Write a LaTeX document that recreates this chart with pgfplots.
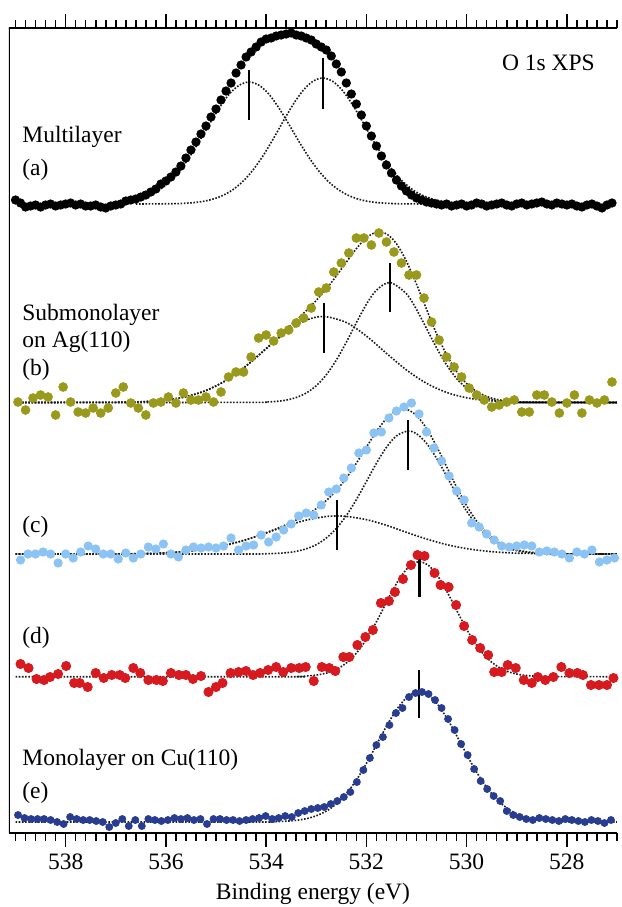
\documentclass[border=0pt]{standalone}
\usepackage{fontspec}
\setmainfont{Liberation Serif}
\usepackage{pgfplots}
\pgfplotsset{compat=1.18}
\usetikzlibrary{calc}
\definecolor{olivedot}{HTML}{999A1C}
\definecolor{skydot}{HTML}{8CC3F5}
\definecolor{reddot}{HTML}{D71920}
\definecolor{navydot}{HTML}{283C91}
\pgfplotsset{
  fitline/.style={black!90, line width=0.8pt, dash pattern=on 0.8pt off 0.8pt, smooth, mark=none},
  peakbar/.style={black, line width=1.1pt, mark=none},
  dots/.style={only marks, mark=*, mark size=2.2pt},
}
\begin{document}
\begin{tikzpicture}[font=\fontsize{11.75}{14}\selectfont]
\begin{axis}[
  scale only axis, width=304pt, height=402.5pt,
  x dir=reverse, xmin=527, xmax=539.13,
  y dir=reverse, ymin=28, ymax=833,
  hide y axis,
  axis x line=box,
  xtick={528,530,...,538},
  minor xtick={527,527.2,...,539},
  tick align=outside,
  major tick length=6.8pt, minor tick length=4pt,
  tick style={black, line width=0.8pt},
  axis line style={line width=1pt},
  xlabel={Binding energy (eV)},
  /pgf/number format/assume math mode=true,
]
% frame: left side only
\draw[line width=1pt] (axis description cs:0,0) -- (axis description cs:0,1);
\coordinate (bl) at (axis description cs:0,0);
\coordinate (tr) at (axis description cs:1,1);

% ---------- (a) multilayer ----------
\addplot[fitline] coordinates {
(536.74,201.6) (536.54,199.4) (536.34,195.8) (536.14,190.3) (535.94,182.4) (535.74,171.5)
(535.54,157.9) (535.34,141.9) (535.14,124.8) (534.94,108.4) (534.74,94.4) (534.54,85.3)
(534.34,82) (534.14,85.3) (533.94,94.4) (533.74,108.4) (533.54,124.8) (533.34,141.9)
(533.14,157.9) (532.94,171.5) (532.74,182.4) (532.54,190.3) (532.34,195.8) (532.14,199.4)
(531.94,201.6) (531.74,202.8) (531.54,203.4) (531.34,203.8) (530.8,204)};
\addplot[fitline] coordinates {
(536.6,204) (535.87,203.7) (535.67,203.4) (535.47,202.7) (535.27,201.5) (535.07,199.2)
(534.87,195.6) (534.67,189.9) (534.47,181.7) (534.27,170.5) (534.07,156.4) (533.87,139.9)
(533.67,122.2) (533.47,105.2) (533.27,90.9) (533.07,81.4) (532.87,78) (532.67,81.4)
(532.47,90.9) (532.27,105.2) (532.07,122.2) (531.87,139.9) (531.67,156.4) (531.47,170.5)
(531.27,181.7) (531.07,189.9) (530.87,195.6) (530.67,199.2) (530.47,201.5)};
\addplot[dots, black, mark size=2.1pt] coordinates {
(539.0,200) (538.9,203) (538.8,207) (538.7,206) (538.6,205) (538.5,207) (538.4,205) (538.3,204)
(538.2,206) (538.1,205) (538.0,204) (537.9,203) (537.8,205) (537.7,204) (537.6,206) (537.5,206)
(537.4,205) (537.3,207) (537.2,208) (537.1,206) (537.0,205) (536.9,204) (536.8,201) (536.7,200)
(536.6,199) (536.5,197) (536.4,195) (536.3,192) (536.2,189) (536.1,184) (536.0,181) (535.9,177)
(535.8,172) (535.7,166) (535.6,158) (535.5,150) (535.4,142) (535.3,134) (535.2,126) (535.1,117)
(535.0,109) (534.9,100) (534.8,91) (534.7,83) (534.6,73) (534.5,65) (534.4,57) (534.3,52)
(534.2,47) (534.1,42) (534.0,39) (533.9,38) (533.8,36) (533.7,35) (533.6,34) (533.5,33)
(533.4,35) (533.3,36) (533.2,38) (533.1,40) (533.0,44) (532.9,47) (532.8,50) (532.7,56)
(532.6,64) (532.5,72) (532.4,83) (532.3,94) (532.2,104) (532.1,115) (532.0,126) (531.9,136)
(531.8,146) (531.7,156) (531.6,165) (531.5,173) (531.4,180) (531.3,186) (531.2,191) (531.1,195)
(531.0,198) (530.9,200) (530.8,202) (530.7,203) (530.6,204) (530.5,205) (530.4,204) (530.3,206)
(530.2,205) (530.1,204) (530.0,206) (529.9,205) (529.8,203) (529.7,204) (529.6,206) (529.5,205)
(529.4,204) (529.3,203) (529.2,205) (529.1,206) (529.0,204) (528.9,203) (528.8,205) (528.7,204)
(528.6,203) (528.5,202) (528.4,204) (528.3,205) (528.2,203) (528.1,204) (528.0,205) (527.9,204)
(527.8,206) (527.7,207) (527.6,205) (527.5,204) (527.4,206) (527.3,208) (527.2,205) (527.1,203)};
\addplot[peakbar] coordinates {(534.34,70) (534.34,120)};
\addplot[peakbar] coordinates {(532.87,58) (532.87,109)};

% ---------- (b) submonolayer on Ag(110) ----------
\addplot[fitline] coordinates {
(539,402.5) (537.0,402.3) (536.5,401.8) (536.0,400.0) (535.6,396.7) (535.2,390.5) (534.8,380.4)
(534.4,366.0) (534.0,348.9) (533.6,332.1) (533.2,320.2) (532.85,316.5) (532.4,322.5) (532.0,336.0)
(531.6,353.3) (531.2,370.0) (530.8,383.3) (530.4,392.4) (530.0,397.8) (529.6,400.5) (529.0,402.0)
(528.5,402.4) (527,402.5)};
\addplot[fitline] coordinates {
(539,402.5) (534.4,402.4) (534.0,402.0) (533.8,401.4) (533.6,400.1) (533.4,397.5) (533.2,393.0)
(533.0,385.7) (532.8,374.8) (532.6,360.1) (532.4,342.2) (532.2,322.7) (532.0,304.3) (531.8,290.2)
(531.53,282.5) (531.2,293.8) (531.0,309.5) (530.8,328.5) (530.6,347.8) (530.4,364.9) (530.2,378.5)
(530.0,388.2) (529.8,394.6) (529.6,398.4) (529.4,400.6) (529.2,401.7) (529.0,402.2) (527,402.5)};
\addplot[fitline] coordinates {
(539,402.5) (537.0,402.3) (536.5,401.8) (536.0,400.0) (535.6,396.7) (535.2,390.5) (534.8,380.4)
(534.4,365.9) (534.0,348.4) (533.6,329.7) (533.2,310.7) (533.0,300.4) (532.8,288.9) (532.6,276.0)
(532.4,262.2) (532.2,248.7) (532.0,237.8) (531.8,232.2) (531.6,233.8) (531.4,243.7) (531.2,261.3)
(531.0,284.2) (530.8,309.3) (530.6,333.7) (530.4,354.8) (530.2,371.5) (530.0,383.5) (529.8,391.5)
(529.6,396.4) (529.4,399.4) (529.2,400.9) (529.0,401.7) (528.8,402.2) (527,402.5)};
\addplot[black, line width=0.9pt, mark=none] coordinates {(529.3,402.4) (527,402.5)};
\addplot[dots, olivedot] coordinates {
(538.95,402) (538.8,410) (538.65,398) (538.5,395) (538.35,397) (538.2,415) (538.05,387) (537.9,402)
(537.75,412) (537.6,413) (537.45,408) (537.3,413) (537.15,408) (537.0,393) (536.85,387) (536.7,403)
(536.55,408) (536.4,415) (536.25,403) (536.1,402) (535.95,397) (535.8,403) (535.65,393) (535.5,400)
(535.35,400) (535.2,397) (535.05,402) (534.9,392) (534.75,377) (534.6,372) (534.45,372) (534.3,357)
(534.15,338) (534.0,335) (533.85,341) (533.7,333) (533.55,330) (533.4,323) (533.25,318) (533.1,308)
(532.95,292) (532.8,288) (532.65,272) (532.5,263) (532.35,253) (532.2,238) (532.05,238) (531.9,245)
(531.75,233) (531.6,242) (531.45,252) (531.3,263) (531.15,275) (531.0,275) (530.85,298) (530.7,322)
(530.55,340) (530.4,357) (530.25,367) (530.1,377) (529.95,388) (529.8,395) (529.65,400) (529.5,407)
(529.35,405) (529.2,402) (529.05,400) (528.9,412) (528.75,412) (528.6,395) (528.45,395) (528.3,402)
(528.15,413) (528.0,403) (527.85,395) (527.7,413) (527.55,400) (527.4,403) (527.25,400) (527.1,382)};
\addplot[peakbar] coordinates {(532.85,303) (532.85,353)};
\addplot[peakbar] coordinates {(531.53,263) (531.53,312)};

% ---------- (c) ----------
\addplot[fitline] coordinates {
(539,554) (537.0,553.9) (536.5,553.6) (536.0,552.8) (535.6,551.4) (535.2,549.0) (534.8,545.1)
(534.4,539.7) (534.0,533.0) (533.6,526.0) (533.2,520.1) (532.8,516.5) (532.58,516.0) (532.4,516.4)
(532.0,519.6) (531.6,525.3) (531.2,532.3) (530.8,539.0) (530.4,544.6) (530.0,548.6) (529.6,551.2)
(529.2,552.7) (528.8,553.4) (528.0,553.9) (527,554)};
\addplot[fitline] coordinates {
(539,554) (534.5,554) (534.0,553.7) (533.8,553.4) (533.6,552.7) (533.4,551.3) (533.2,548.8)
(533.0,544.7) (532.8,538.0) (532.6,528.5) (532.4,515.6) (532.2,499.6) (532.0,481.6) (531.8,463.3)
(531.6,447.3) (531.4,435.9) (531.17,431.0) (531.0,433.7) (530.8,443.3) (530.6,458.2) (530.4,476.0)
(530.2,494.3) (530.0,511.1) (529.8,525.0) (529.6,535.5) (529.4,542.9) (529.2,547.8) (529.0,550.7)
(528.8,552.4) (528.6,553.2) (528.2,553.9) (527,554)};
\addplot[fitline] coordinates {
(539,554) (537.0,553.9) (536.5,553.6) (536.0,552.8) (535.6,551.4) (535.2,549.0) (534.8,545.1)
(534.4,539.7) (534.0,532.7) (533.6,524.7) (533.2,514.9) (533.0,508.6) (532.8,500.5) (532.6,490.5)
(532.4,478.0) (532.2,463.2) (532.0,447.2) (531.8,431.5) (531.6,418.6) (531.4,410.7) (531.2,409.4)
(531.0,415.5) (530.8,428.3) (530.6,446.2) (530.4,466.6) (530.2,487.1) (530.0,505.7) (529.8,521.1)
(529.6,532.7) (529.4,541.0) (529.2,546.5) (529.0,549.8) (528.8,551.8) (528.6,552.8) (528.4,553.5)
(528.0,553.9) (527,554)};
\addplot[dots, skydot, mark size=2.1pt] coordinates {
(538.9,560) (538.75,554) (538.6,554) (538.45,552) (538.3,554) (538.15,563) (538.0,554) (537.85,558)
(537.7,552) (537.55,546) (537.4,549) (537.25,554) (537.1,554) (536.95,559) (536.8,553) (536.65,558)
(536.5,554) (536.35,547) (536.2,549) (536.05,544) (535.9,554) (535.75,557) (535.6,550) (535.45,547)
(535.3,548) (535.15,547) (535.0,548) (534.85,546) (534.7,538) (534.55,550) (534.4,546) (534.25,545)
(534.1,535) (533.95,542) (533.8,537) (533.65,530) (533.5,524) (533.35,516) (533.2,513) (533.05,515)
(532.9,505) (532.75,492) (532.6,489) (532.45,478) (532.3,468) (532.15,453) (532.0,450) (531.85,433)
(531.7,432) (531.55,418) (531.4,411) (531.25,407) (531.1,403) (530.95,414) (530.8,432) (530.65,448)
(530.5,461) (530.35,476) (530.2,491) (530.05,500) (529.9,523) (529.75,527) (529.6,534) (529.45,540)
(529.3,546) (529.15,547) (529.0,546) (528.85,545) (528.7,546) (528.55,552) (528.4,551) (528.25,552)
(528.1,554) (527.95,558) (527.8,552) (527.65,554) (527.5,550) (527.35,562) (527.2,560) (527.05,558)};
\addplot[peakbar] coordinates {(532.58,500) (532.58,550)};
\addplot[peakbar] coordinates {(531.17,420) (531.17,470)};

% ---------- (d) ----------
\addplot[fitline] coordinates {
(539,676.7) (533.6,676.7) (533.4,676.6) (533.14,675.8) (532.94,674.6) (532.74,672.2) (532.54,667.8)
(532.34,660.5) (532.14,649.5) (531.94,634.4) (531.74,616.1) (531.54,596.5) (531.34,578.7) (531.14,566.2)
(530.94,561.7) (530.74,566.2) (530.54,578.7) (530.34,596.5) (530.14,616.1) (529.94,634.4) (529.74,649.5)
(529.54,660.5) (529.34,667.8) (529.14,672.2) (528.94,674.6) (528.74,675.8) (528.54,676.3) (528.3,676.6)
(527,676.7)};
\addplot[dots, reddot, mark size=2.3pt] coordinates {
(538.9,664) (538.74,668) (538.58,679) (538.43,680) (538.31,677) (538.15,674) (537.99,666) (537.83,683)
(537.72,683) (537.56,687) (537.4,673) (537.24,678) (537.08,675) (536.92,675) (536.81,678) (536.65,668)
(536.51,673) (536.35,680) (536.19,680) (536.06,681) (535.9,673) (535.74,675) (535.6,675) (535.46,679)
(535.3,676) (535.15,692) (535.0,687) (534.87,683) (534.71,673) (534.55,672) (534.4,671) (534.26,675)
(534.12,673) (533.96,670) (533.8,667) (533.66,672) (533.5,668) (533.34,668) (533.21,667) (533.05,681)
(532.89,667) (532.74,668) (532.62,671) (532.46,657) (532.34,657) (532.18,645) (532.02,637) (531.87,630)
(531.71,603) (531.55,601) (531.43,592) (531.27,579) (531.11,565) (530.98,555) (530.84,556) (530.64,573)
(530.52,585) (530.36,587) (530.21,605) (530.05,626) (529.89,640) (529.73,648) (529.57,655) (529.45,672)
(529.3,672) (529.18,665) (529.02,668) (528.86,680) (528.7,683) (528.58,677) (528.43,680) (528.27,677)
(528.11,667) (527.95,673) (527.79,673) (527.68,675) (527.52,685) (527.36,685) (527.2,685) (527.07,678)};
\addplot[peakbar] coordinates {(530.94,552) (530.94,597)};

% ---------- (e) monolayer on Cu(110) ----------
\addplot[fitline] coordinates {
(539,822) (534.2,822) (533.95,821.8) (533.75,821.6) (533.55,821.0) (533.35,820.0) (533.15,818.1)
(532.95,814.8) (532.75,809.6) (532.55,801.7) (532.35,790.6) (532.15,776.2) (531.95,759.0) (531.75,740.2)
(531.55,721.9) (531.35,706.3) (531.15,695.7) (530.95,692) (530.75,695.7) (530.55,706.3) (530.35,721.9)
(530.15,740.2) (529.95,759.0) (529.75,776.2) (529.55,790.6) (529.35,801.7) (529.15,809.6) (528.95,814.8)
(528.75,818.1) (528.55,820.0) (528.35,821.0) (528.15,821.6) (527.95,821.8) (527,822)};
\addplot[dots, navydot, mark size=1.75pt] coordinates {
(538.95,815) (538.82,818) (538.69,819) (538.56,819) (538.43,819) (538.30,820) (538.17,822) (538.04,824)
(537.91,817) (537.78,819) (537.65,820) (537.52,820) (537.39,821) (537.26,822) (537.13,827) (537.00,823)
(536.87,819) (536.74,826) (536.61,820) (536.48,826) (536.35,819) (536.22,820) (536.09,821) (535.96,820)
(535.83,818) (535.70,819) (535.57,818) (535.44,820) (535.31,819) (535.18,824) (535.05,819) (534.92,819)
(534.79,820) (534.66,820) (534.53,821) (534.40,820) (534.27,819) (534.14,818) (534.01,816) (533.88,819)
(533.75,818) (533.62,816) (533.49,817) (533.36,813) (533.23,811) (533.10,809) (532.97,808) (532.84,807)
(532.71,804) (532.58,801) (532.45,797) (532.32,792) (532.19,782) (532.06,770) (531.93,758) (531.80,745)
(531.67,737) (531.54,725) (531.41,713) (531.28,708) (531.15,697) (531.02,693) (530.89,692) (530.76,694)
(530.63,700) (530.50,708) (530.37,719) (530.24,730) (530.11,744) (529.98,755) (529.85,769) (529.72,781)
(529.59,789) (529.46,796) (529.33,801) (529.20,811) (529.07,815) (528.94,817) (528.81,819) (528.68,820)
(528.55,818) (528.42,819) (528.29,820) (528.16,821) (528.03,819) (527.90,820) (527.77,821) (527.64,822)
(527.51,820) (527.38,821) (527.25,823) (527.12,820)};
\addplot[peakbar] coordinates {(530.95,670) (530.95,718)};

% ---------- labels ----------
\node[anchor=west, inner sep=0pt] at (axis cs:529.3,63) {O 1s XPS};
\node[anchor=west, inner sep=0pt] at (axis cs:538.87,137) {Multilayer};
\node[anchor=west, inner sep=0pt] at (axis cs:538.87,170) {(a)};
\node[anchor=west, inner sep=0pt] at (axis cs:538.87,315) {Submonolayer};
\node[anchor=west, inner sep=0pt] at (axis cs:538.87,342) {on Ag(110)};
\node[anchor=west, inner sep=0pt] at (axis cs:538.87,370) {(b)};
\node[anchor=west, inner sep=0pt] at (axis cs:538.87,527) {(c)};
\node[anchor=west, inner sep=0pt] at (axis cs:538.87,638) {(d)};
\node[anchor=west, inner sep=0pt] at (axis cs:538.87,760) {Monolayer on Cu(110)};
\node[anchor=west, inner sep=0pt] at (axis cs:538.87,793) {(e)};
\end{axis}
\pgfresetboundingbox
\path[use as bounding box] ($(bl)+(-4.5pt,-37pt)$) rectangle ($(tr)+(2.5pt,14pt)$);
\end{tikzpicture}
\end{document}
